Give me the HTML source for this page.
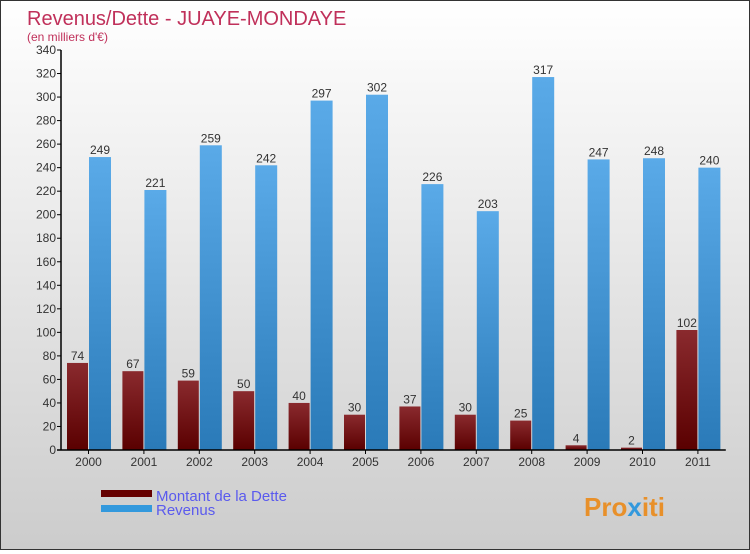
<!DOCTYPE html>
<html><head><meta charset="utf-8"><style>
body{margin:0;width:750px;height:550px;overflow:hidden;font-family:"Liberation Sans",sans-serif}
#c{position:absolute;left:0;top:0;width:748px;height:548px;border:1px solid #333;background:linear-gradient(#fff,#ccc)}
</style></head><body>
<div id="c">
<svg id="s" width="748" height="548" xmlns="http://www.w3.org/2000/svg">
<defs>
<linearGradient id="gd" x1="0" y1="0" x2="0" y2="1"><stop offset="0" stop-color="#8a2a2e"/><stop offset="1" stop-color="#5a0000"/></linearGradient>
<linearGradient id="gr" x1="0" y1="0" x2="0" y2="1"><stop offset="0" stop-color="#5aaae8"/><stop offset="1" stop-color="#2a7ab8"/></linearGradient>
</defs>
<text x="26" y="24" font-size="20" fill="#c0305a">Revenus/Dette - JUAYE-MONDAYE</text>
<text x="26" y="40" font-size="12" fill="#c0305a">(en milliers d'€)</text>
<g id="plot"></g>
<g>
<rect x="100" y="489" width="51" height="7" fill="#660000"/>
<text x="155" y="500" font-size="15" fill="#5a5aee">Montant de la Dette</text>
<rect x="100" y="504" width="51" height="7" fill="#3399dd"/>
<text x="155" y="514" font-size="15" fill="#5a5aee">Revenus</text>
</g>
<text x="583" y="515" font-size="26" font-weight="bold" fill="#e8902a">Pro<tspan fill="#3399dd">x</tspan>iti</text>
</svg></div>
<script>
const years=["2000","2001","2002","2003","2004","2005","2006","2007","2008","2009","2010","2011"];
const dette=[74,67,59,50,40,30,37,30,25,4,2,102];
const revenus=[249,221,259,242,297,302,226,203,317,247,248,240];
const ticks=[0,20,40,60,80,100,120,140,160,180,200,220,240,260,280,300,320,340];
const NS="http://www.w3.org/2000/svg";
const g=document.getElementById('plot');
const x0=60,y0=449,ymax=340,ph=400,gw=55.4;
const y=v=>y0-v/ymax*ph;
function el(t,a,p){const e=document.createElementNS(NS,t);for(const k in a)e.setAttribute(k,a[k]);(p||g).appendChild(e);return e;}
ticks.forEach(t=>{
 const l=el('line',{x1:x0-4,x2:x0,y1:y(t),y2:y(t),stroke:'#000'});
 
 
 const tx=el('text',{x:x0-5,y:y(t)+4,'font-size':12,fill:'#333','text-anchor':'end'});
 tx.textContent=t;
 
 
});
years.forEach((yr,i)=>{
 const gx=x0+i*gw;
 const bd=el('rect',{x:gx+6,y:y(dette[i]),width:21,height:y0-y(dette[i]),fill:'url(#gd)'});
 
 
 const br=el('rect',{x:gx+28,y:y(revenus[i]),width:22,height:y0-y(revenus[i]),fill:'url(#gr)'});
 
 
 const ld=el('text',{x:gx+16.5,y:y(dette[i])-3,'font-size':12,fill:'#333','text-anchor':'middle'});
 ld.textContent=dette[i];
 
 
 const lr=el('text',{x:gx+39,y:y(revenus[i])-3,'font-size':12,fill:'#333','text-anchor':'middle'});
 lr.textContent=revenus[i];
 
 
 const tk=el('line',{x1:gx+27.5,x2:gx+27.5,y1:y0,y2:y0+4,stroke:'#000'});
 
 
 const xl=el('text',{x:gx+27.5,y:y0+16,'font-size':12,fill:'#333','text-anchor':'middle'});
 xl.textContent=yr;
 
 
});
const ax=el('line',{x1:x0,x2:x0,y1:y(ymax),y2:y0,stroke:'#000','stroke-width':1.5});


const axx=el('line',{x1:x0-4,x2:x0+12*gw,y1:y0,y2:y0,stroke:'#000','stroke-width':1.5});


</script>
</body></html>
